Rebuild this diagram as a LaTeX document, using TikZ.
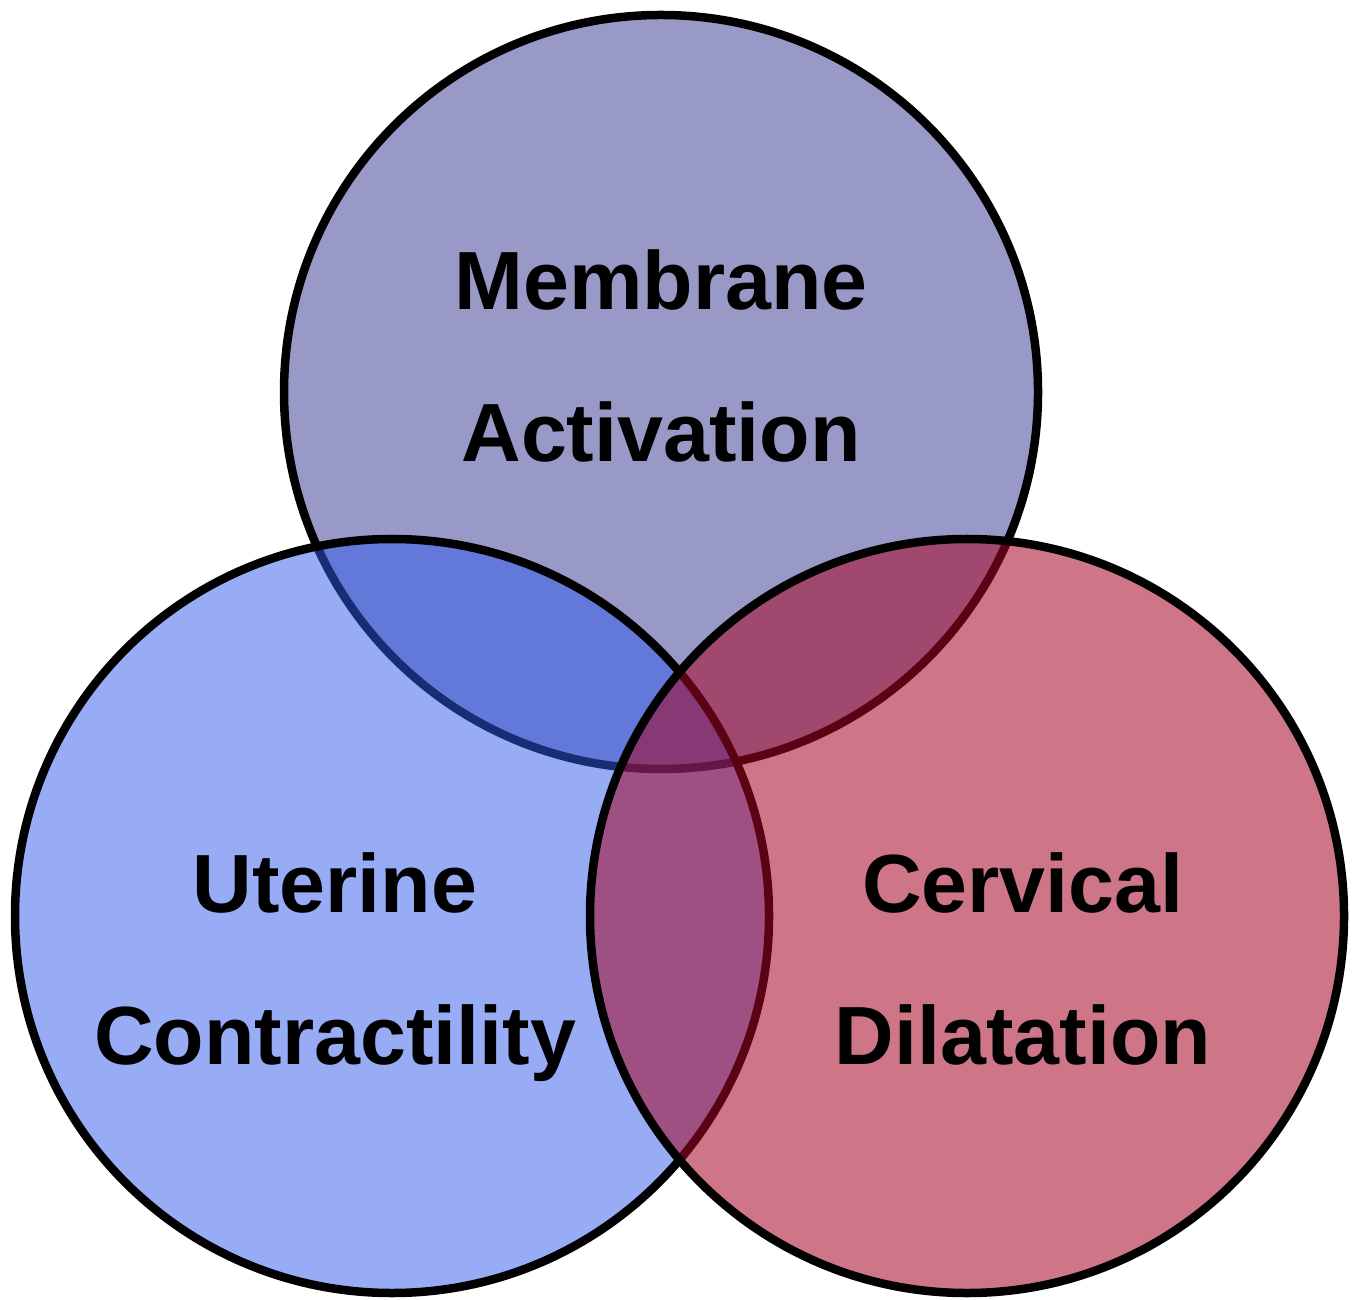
\documentclass[tikz,border=0pt]{standalone}
\usepackage{fontspec}
\setmainfont{Liberation Sans}
\definecolor{membrane}{RGB}{153,153,200}
\definecolor{uterine}{RGB}{47,90,235}
\definecolor{cervical}{RGB}{166,6,37}
\begin{document}
\begin{tikzpicture}[
    ring/.style={line width=0.85mm, draw=black},
    lbl/.style={font=\fontsize{23.5}{43.2}\selectfont\bfseries, align=center, inner sep=0pt}]
    \useasboundingbox (0,0) rectangle (13.58,12.99);

    % the three circles, back to front
    \draw[ring, fill=membrane] (6.61,9.07) circle (3.77);
    \draw[ring, fill=uterine, fill opacity=0.5] (3.92,3.83) circle (3.77);
    \draw[ring, fill=cervical, fill opacity=0.55] (9.67,3.83) circle (3.77);

    \node[lbl] (membrane) at (6.61,9.43) {Membrane\\Activation};
    \node[lbl] (uterine) at (3.35,3.32) {Uterine\\Contractility};
    \node[lbl] (cervical) at (10.23,3.40) {Cervical\\Dilatation};
\end{tikzpicture}
\end{document}
